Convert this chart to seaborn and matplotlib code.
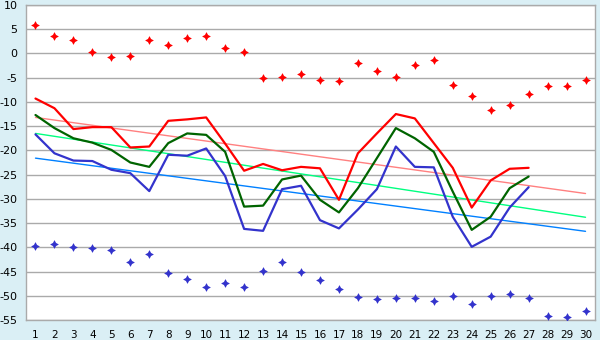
import numpy as np
import pandas as pd
import matplotlib
matplotlib.use("Agg")
import matplotlib.pyplot as plt
import seaborn as sns

days = list(range(1, 31))
line_days = list(range(1, 28))

# daily maximum / mean / minimum (days 1-27)
red_line = [-9.3, -11.3, -15.6, -15.2, -15.2, -19.4, -19.2, -13.9, -13.6, -13.2,
            -18.6, -24.2, -22.8, -24.1, -23.4, -23.7, -30.2, -20.6, -16.5, -12.5,
            -13.4, -18.5, -23.6, -31.8, -26.2, -23.8, -23.6]
green_line = [-12.7, -15.4, -17.5, -18.4, -19.9, -22.5, -23.4, -18.5, -16.5, -16.8,
              -20.3, -31.6, -31.4, -26.0, -25.2, -30.2, -32.8, -27.8, -21.6, -15.4,
              -17.5, -20.3, -28.5, -36.4, -33.7, -27.8, -25.4]
blue_line = [-16.7, -20.6, -22.1, -22.2, -24.0, -24.7, -28.4, -20.9, -21.1, -19.6,
             -25.3, -36.2, -36.6, -28.0, -27.3, -34.4, -36.1, -32.2, -28.0, -19.2,
             -23.4, -23.5, -33.7, -39.9, -37.8, -31.8, -27.6]

# long-term normals: values on the first and last day of the month
trend_days = [1, 30]
red_norm = [-13.2, -28.9]
green_norm = [-16.5, -33.8]
blue_norm = [-21.6, -36.7]

# record high / record low points (days 1-30)
red_points = [5.8, 3.7, 2.7, 0.2, -0.8, -0.6, 2.7, 1.7, 3.1, 3.5,
              1.1, 0.4, -5.1, -4.9, -4.3, -5.5, -5.7, -2.0, -3.7, -4.9,
              -2.4, -1.4, -6.6, -8.8, -11.7, -10.7, -8.4, -6.8, -6.8, -5.5]
blue_points = [-39.8, -39.4, -40.0, -40.2, -40.6, -43.1, -41.4, -45.4, -46.6, -48.2,
               -47.4, -48.2, -44.9, -43.1, -45.1, -46.8, -48.7, -50.3, -50.7, -50.5,
               -50.5, -51.1, -50.1, -51.8, -50.1, -49.7, -50.5, -54.2, -54.4, -53.2]

y_ticks = list(range(-55, 11, 5))

sns.set_style("white")
plt.rcParams["font.family"] = ["DejaVu Sans"]
plt.rcParams["axes.unicode_minus"] = False

fig = plt.figure(figsize=(6, 3.4), dpi=100, facecolor="#DAEFF5")
ax = fig.add_axes([26 / 600, 1 - 320 / 340, 569 / 600, 315 / 340])
ax.set_facecolor("white")

lines = pd.DataFrame({"day": line_days, "max": red_line, "mean": green_line, "min": blue_line})
norms = pd.DataFrame({"day": trend_days, "max": red_norm, "mean": green_norm, "min": blue_norm})
pts = pd.DataFrame({"day": days, "hi": red_points, "lo": blue_points})

for col, color in [("max", "#FF8080"), ("mean", "#00FF80"), ("min", "#0080FF")]:
    sns.lineplot(data=norms, x="day", y=col, ax=ax, color=color, linewidth=1.0, zorder=2)

for col, color in [("max", "#FF0000"), ("mean", "#006400"), ("min", "#3333CC")]:
    sns.lineplot(data=lines, x="day", y=col, ax=ax, color=color, linewidth=1.6, zorder=3)

star4 = (4, 1, 0)
sns.scatterplot(data=pts, x="day", y="hi", ax=ax, color="#FF0000", marker=star4,
                s=40, linewidth=0, zorder=4)
sns.scatterplot(data=pts, x="day", y="lo", ax=ax, color="#3333CC", marker=star4,
                s=40, linewidth=0, zorder=4)

ax.set_xlim(0.5, 30.5)
ax.set_ylim(-55, 10)
ax.set_xticks(days)
ax.set_yticks(y_ticks)
ax.set_xticklabels([str(d) for d in days], fontsize=7.5)
ax.set_yticklabels([str(v) for v in y_ticks], fontsize=8)
ax.grid(axis="y", color="#AAAAAA", linewidth=1.0)
ax.set_axisbelow(True)
ax.set_xlabel("")
ax.set_ylabel("")
for side in ["left", "right", "bottom", "top"]:
    ax.spines[side].set_color("#AAAAAA")
    ax.spines[side].set_linewidth(1.0)
ax.tick_params(axis="both", direction="out", length=4, width=1, color="#AAAAAA",
               labelcolor="black", pad=2)
ax.tick_params(axis="x", length=5)

fig.savefig("out.png", dpi=100, facecolor=fig.get_facecolor())
